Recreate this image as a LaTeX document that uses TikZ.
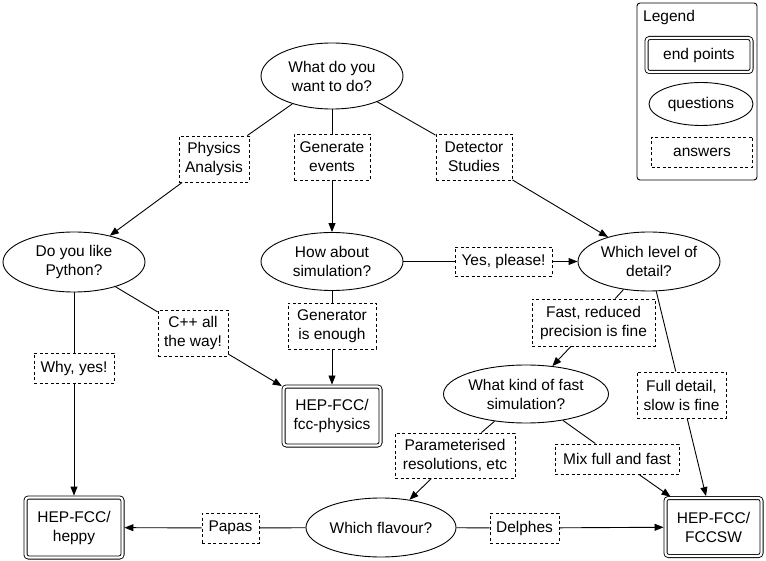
\documentclass[tikz,border=0pt]{standalone}
\usepackage{fontspec}
\setmainfont{Liberation Sans}
\usetikzlibrary{arrows.meta,shapes.geometric}
\begin{document}
\begin{tikzpicture}[x=1pt,y=-1pt,
  every node/.style={font=\fontsize{15.5}{19}\selectfont, align=center, inner sep=0pt},
  q/.style={ellipse, draw, line width=0.9pt},
  ans/.style={rectangle, draw, dash pattern=on 3pt off 2.5pt, line width=0.9pt},
  endpt/.style={rectangle, draw, double, double distance=2.2pt, line width=0.9pt, rounded corners=3pt},
  ln/.style={line width=0.9pt},
  arr/.style={line width=0.9pt, -{Triangle[length=9pt,width=7pt]}},
  arre/.style={arr, shorten >=1.5pt},
]
\useasboundingbox (0,0) rectangle (766,561);

% legend
\node[draw, rounded corners=3pt, line width=0.9pt, minimum width=120pt, minimum height=177pt] (legend) at (697,91.5) {};
\node[anchor=base west] (legendtitle) at (643,22) {Legend};
\node[endpt, minimum width=105pt, minimum height=34pt] (legend-end) at (699,55) {end points};
\node[q, minimum width=104pt, minimum height=43pt] (legend-q) at (701,104) {questions};
\node[ans, minimum width=101pt, minimum height=30pt] (legend-a) at (702,152) {answers};

% questions
\node[q, minimum width=142pt, minimum height=66pt] (want) at (332,76) {What do you\\want to do?};
\node[q, minimum width=142pt, minimum height=60pt] (python) at (74,262) {Do you like\\Python?};
\node[q, minimum width=142pt, minimum height=58pt] (sim) at (332,261.5) {How about\\simulation?};
\node[q, minimum width=142pt, minimum height=59pt] (level) at (649,261.5) {Which level of\\detail?};
\node[q, minimum width=165pt, minimum height=58pt] (fastsim) at (526,394) {What kind of fast\\simulation?};
\node[q, minimum width=150pt, minimum height=59pt] (flavour) at (381,527.5) {Which flavour?};

% answers
\node[ans, minimum width=70pt, minimum height=46pt] (phys) at (214,159) {Physics\\Analysis};
\node[ans, minimum width=76pt, minimum height=46pt] (gen) at (332,157) {Generate\\events};
\node[ans, minimum width=76pt, minimum height=46pt] (det) at (474,157) {Detector\\Studies};
\node[ans, minimum width=70pt, minimum height=46pt] (cpp) at (193,333) {C++ all\\the way!};
\node[ans, minimum width=80pt, minimum height=30pt] (whyyes) at (74,368) {Why, yes!};
\node[ans, minimum width=88pt, minimum height=46pt] (genenough) at (332,326) {Generator\\is enough};
\node[ans, minimum width=97pt, minimum height=29pt] (yesplease) at (503.5,261.5) {Yes, please!};
\node[ans, minimum width=123pt, minimum height=47pt] (fast) at (593.5,322.5) {Fast, reduced\\precision is fine};
\node[ans, minimum width=89pt, minimum height=46pt] (full) at (681.5,395) {Full detail,\\slow is fine};
\node[ans, minimum width=120pt, minimum height=45pt] (param) at (455,455.5) {Parameterised\\resolutions, etc};
\node[ans, minimum width=124pt, minimum height=30pt] (mix) at (617,459) {Mix full and fast};
\node[ans, minimum width=57pt, minimum height=30pt] (papas) at (230.5,528) {Papas};
\node[ans, minimum width=69pt, minimum height=30pt] (delphes) at (524.5,528) {Delphes};

% end points
\node[endpt, minimum width=97pt, minimum height=59pt] (fccphys) at (332,416) {HEP-FCC/\\fcc-physics};
\node[endpt, minimum width=97pt, minimum height=60pt] (heppy) at (74,527.5) {HEP-FCC/\\heppy};
\node[endpt, minimum width=96pt, minimum height=58pt] (fccsw) at (713.5,527) {HEP-FCC/\\FCCSW};

% edges
\draw[ln] (want) -- (phys);
\draw[arr] (phys) -- (python);
\draw[ln] (want) -- (gen);
\draw[arr] (gen) -- (sim);
\draw[ln] (want) -- (det);
\draw[arr] (det) -- (level);

\draw[ln] (python) -- (whyyes);
\draw[arre] (whyyes) -- (heppy);
\draw[ln] (python) -- (cpp);
\draw[arre] (cpp) -- (fccphys);

\draw[ln] (sim) -- (genenough);
\draw[arre] (genenough) -- (fccphys);
\draw[ln] (sim) -- (yesplease);
\draw[arr] (yesplease) -- (level);

\draw[ln] (level) -- (fast);
\draw[arr] (fast) -- (fastsim);
\draw[ln] (level) -- (full);
\draw[arre] (full) -- (fccsw);

\draw[ln] (fastsim) -- (param);
\draw[arr] (param) -- (flavour);
\draw[ln] (fastsim) -- (mix);
\draw[arre] (mix) -- (fccsw);

\draw[ln] (flavour) -- (papas);
\draw[arre] (papas) -- (heppy);
\draw[ln] (flavour) -- (delphes);
\draw[arre] (delphes) -- (fccsw);
\end{tikzpicture}
\end{document}
